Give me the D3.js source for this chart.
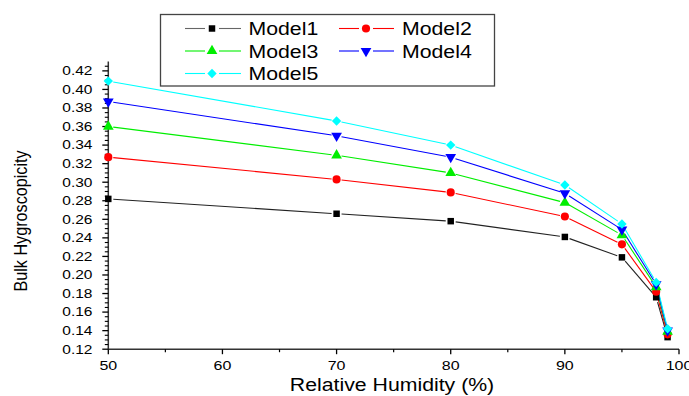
<!DOCTYPE html>
<html><head><meta charset="utf-8">
<script src="https://cdn.jsdelivr.net/npm/d3@7"></script>
<style>html,body{margin:0;padding:0;background:#fff;}svg{display:block;}</style>
</head><body>
<svg id="c" width="689" height="396"></svg>
<script>
const rh = [50, 70, 80, 90, 95, 98, 99];
const model1 = [0.282, 0.266, 0.258, 0.241, 0.219, 0.176, 0.133];
const model2 = [0.327, 0.303, 0.289, 0.263, 0.233, 0.182, 0.136];
const model3 = [0.360, 0.329, 0.310, 0.278, 0.243, 0.187, 0.139];
const model4 = [0.387, 0.350, 0.327, 0.288, 0.249, 0.190, 0.140];
const model5 = [0.409, 0.366, 0.340, 0.297, 0.255, 0.192, 0.142];
const seriesNames = ["Model1", "Model2", "Model3", "Model4", "Model5"];
const xTicks = [50, 60, 70, 80, 90, 100];
const yTicks = [0.12,0.14,0.16,0.18,0.20,0.22,0.24,0.26,0.28,0.30,0.32,0.34,0.36,0.38,0.40,0.42];

const series = [
  {name: seriesNames[0], values: model1, color: "#000000", line: "#222", sym: d3.symbolSquare, size: 42},
  {name: seriesNames[1], values: model2, color: "#ff0000", line: "#ff0000", sym: d3.symbolCircle, size: 52},
  {name: seriesNames[2], values: model3, color: "#00ee00", line: "#00ee00", sym: d3.symbolTriangle, size: 50},
  {name: seriesNames[3], values: model4, color: "#0000ff", line: "#0000ff", sym: d3.symbolTriangle, size: 50, rot: 180},
  {name: seriesNames[4], values: model5, color: "#00ffff", line: "#00ffff", sym: d3.symbolSquare, size: 44, rot: 45}
];

const svg = d3.select("#c");
const FONT = "'Liberation Sans', Arial, sans-serif";
const x = d3.scaleLinear().domain([50, 100]).range([108.3, 679]);
const y = d3.scaleLinear().domain([0.12, 0.43]).range([349.2, 61.6]);

function stxt(g, str, tx, ty, size, sx, anchor) {
  return g.append("text").attr("transform", `translate(${tx},${ty}) scale(${sx},1)`)
    .attr("font-family", FONT).attr("font-size", size).attr("text-anchor", anchor || "start")
    .attr("fill", "#000").text(str);
}

// Axes lines
svg.append("line").attr("x1", x(50)).attr("x2", x(100)).attr("y1", y(0.12)).attr("y2", y(0.12))
  .attr("stroke", "#333").attr("stroke-width", 1.5);
svg.append("line").attr("x1", x(50)).attr("x2", x(50)).attr("y1", y(0.12)).attr("y2", y(0.43))
  .attr("stroke", "#333").attr("stroke-width", 1.5);

// X ticks
const xMinor = d3.range(55, 100, 10);
xTicks.forEach(v => {
  svg.append("line").attr("x1", x(v)).attr("x2", x(v)).attr("y1", y(0.12)).attr("y2", y(0.12) + 5)
    .attr("stroke", "#000").attr("stroke-width", 1.3);
  stxt(svg, String(v), x(v), 370, 12.5, 1.28, "middle");
});
xMinor.forEach(v => {
  svg.append("line").attr("x1", x(v)).attr("x2", x(v)).attr("y1", y(0.12)).attr("y2", y(0.12) + 3)
    .attr("stroke", "#000").attr("stroke-width", 1.2);
});
// Y ticks
yTicks.forEach(v => {
  svg.append("line").attr("x1", x(50) - 6).attr("x2", x(50)).attr("y1", y(v)).attr("y2", y(v))
    .attr("stroke", "#000").attr("stroke-width", 1.3);
  stxt(svg, v.toFixed(2), 92.5, y(v) + 4.3, 12.2, 1.27, "end");
});
const yMinor = d3.range(0, 62).map(i => 0.12 + i * 0.005).filter(v => Math.abs((v - 0.12) / 0.02 - Math.round((v - 0.12) / 0.02)) > 0.01 && v <= 0.4301);
yMinor.forEach(v => {
  svg.append("line").attr("x1", x(50) - 3.5).attr("x2", x(50)).attr("y1", y(v)).attr("y2", y(v))
    .attr("stroke", "#000").attr("stroke-width", 1.1);
});

// Axis titles
stxt(svg, "Relative Humidity (%)", 392, 391, 18.5, 1.15, "middle");
svg.append("text").attr("transform", "translate(27,221) rotate(-90) scale(1,1.15)")
  .attr("font-family", FONT).attr("font-size", 16.2).attr("text-anchor", "middle").attr("fill", "#000")
  .text("Bulk Hygroscopicity");

// Lines with gaps around markers
const gap = 5;
series.forEach(s => {
  const pts = rh.map((r, i) => [x(r), y(s.values[i])]);
  for (let i = 0; i < pts.length - 1; i++) {
    const [x1, y1] = pts[i], [x2, y2] = pts[i + 1];
    const dx = x2 - x1, dy = y2 - y1, L = Math.hypot(dx, dy);
    if (L <= 2 * gap) continue;
    const ux = dx / L, uy = dy / L;
    svg.append("line").attr("x1", x1 + ux * gap).attr("y1", y1 + uy * gap)
      .attr("x2", x2 - ux * gap).attr("y2", y2 - uy * gap)
      .attr("stroke", s.line).attr("stroke-width", 1.1);
  }
});
series.forEach(s => {
  const sym = d3.symbol().type(s.sym).size(s.size);
  rh.forEach((r, i) => {
    svg.append("path").attr("d", sym())
      .attr("transform", `translate(${x(r)},${y(s.values[i])})` + (s.rot ? ` rotate(${s.rot})` : ""))
      .attr("fill", s.color);
  });
});

// Legend
const lg = svg.append("g");
lg.append("rect").attr("x", 160.5).attr("y", 14.5).attr("width", 334).attr("height", 71.5)
  .attr("fill", "#fff").attr("stroke", "#444").attr("stroke-width", 1.3);
const cols = [[185, 212, 241, 248.5], [339, 366, 394, 402]];
const rows = [28.5, 51, 73.5];
series.forEach((s, i) => {
  const c = cols[i % 2], r = rows[Math.floor(i / 2)];
  const lc = i === 0 ? "#666" : s.line;
  lg.append("line").attr("x1", c[0]).attr("x2", c[1] - 7).attr("y1", r).attr("y2", r).attr("stroke", lc).attr("stroke-width", 1.1);
  lg.append("line").attr("x1", c[1] + 7).attr("x2", c[2]).attr("y1", r).attr("y2", r).attr("stroke", lc).attr("stroke-width", 1.1);
  lg.append("path").attr("d", d3.symbol().type(s.sym).size(s.size)())
    .attr("transform", `translate(${c[1]},${r})` + (s.rot ? ` rotate(${s.rot})` : "")).attr("fill", s.color);
  stxt(lg, s.name, c[3], r + 6.6, 18.5, 1.15, "start");
});
</script>
</body></html>
